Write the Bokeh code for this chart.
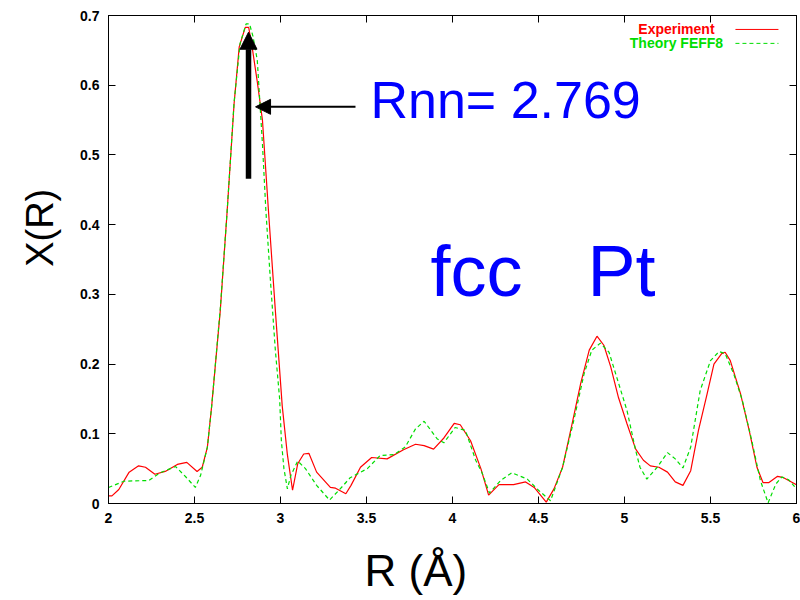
import math
from bokeh.plotting import figure
from bokeh.models import (Label, Arrow, NormalHead, FixedTicker, LinearAxis, Range1d)
from bokeh.embed import file_html
from bokeh.resources import INLINE

# ---------------- data ----------------
r_exp = [2.00, 2.02, 2.06, 2.12, 2.175, 2.215, 2.27, 2.33, 2.40, 2.455, 2.515, 2.545,
         2.575, 2.60, 2.65, 2.69, 2.73, 2.76, 2.795, 2.815, 2.835, 2.865, 2.895, 2.93,
         2.97, 3.01, 3.04, 3.07, 3.10, 3.135, 3.165, 3.21, 3.29, 3.32, 3.38, 3.41,
         3.465, 3.53, 3.62, 3.715, 3.785, 3.835, 3.89, 3.95, 4.01, 4.045, 4.105, 4.165,
         4.21, 4.27, 4.355, 4.425, 4.475, 4.545, 4.59, 4.64, 4.695, 4.745, 4.795, 4.84,
         4.88, 4.92, 4.965, 5.015, 5.065, 5.11, 5.15, 5.20, 5.25, 5.295, 5.34, 5.385,
         5.43, 5.48, 5.52, 5.565, 5.585, 5.615, 5.675, 5.725, 5.77, 5.805, 5.84, 5.89,
         5.925, 6.00]
chi_exp = [0.011, 0.011, 0.020, 0.045, 0.054, 0.052, 0.042, 0.046, 0.056, 0.059, 0.046, 0.052,
           0.081, 0.140, 0.277, 0.420, 0.573, 0.655, 0.683, 0.683, 0.655, 0.605, 0.550, 0.420,
           0.277, 0.140, 0.070, 0.019, 0.057, 0.071, 0.072, 0.045, 0.023, 0.022, 0.014, 0.026,
           0.052, 0.066, 0.064, 0.077, 0.085, 0.083, 0.078, 0.094, 0.115, 0.113, 0.090, 0.050,
           0.012, 0.027, 0.027, 0.031, 0.023, 0.002, 0.021, 0.052, 0.114, 0.172, 0.220, 0.240,
           0.227, 0.196, 0.152, 0.114, 0.078, 0.062, 0.054, 0.052, 0.045, 0.031, 0.026, 0.047,
           0.105, 0.157, 0.200, 0.215, 0.217, 0.205, 0.157, 0.105, 0.052, 0.030, 0.030, 0.039,
           0.037, 0.027]

r_th = [2.00, 2.09, 2.235, 2.30, 2.39, 2.45, 2.505, 2.535, 2.575, 2.60, 2.65, 2.69,
        2.73, 2.765, 2.80, 2.82, 2.84, 2.865, 2.895, 2.915, 2.94, 2.97, 2.995, 3.005,
        3.02, 3.04, 3.06, 3.10, 3.145, 3.21, 3.285, 3.34, 3.405, 3.505, 3.58, 3.66,
        3.725, 3.785, 3.835, 3.91, 3.95, 4.015, 4.075, 4.135, 4.17, 4.215, 4.28, 4.345,
        4.435, 4.50, 4.57, 4.64, 4.705, 4.765, 4.81, 4.86, 4.91, 4.955, 5.015, 5.065,
        5.09, 5.13, 5.19, 5.25, 5.295, 5.34, 5.385, 5.44, 5.50, 5.55, 5.585, 5.635,
        5.685, 5.74, 5.79, 5.835, 5.88, 5.915, 5.955, 6.00]
chi_th = [0.023, 0.032, 0.033, 0.044, 0.053, 0.038, 0.023, 0.040, 0.081, 0.140, 0.280, 0.420,
          0.575, 0.660, 0.688, 0.688, 0.670, 0.636, 0.516, 0.420, 0.325, 0.220, 0.150, 0.090,
          0.050, 0.021, 0.040, 0.061, 0.050, 0.026, 0.005, 0.019, 0.037, 0.050, 0.069, 0.070,
          0.081, 0.107, 0.118, 0.093, 0.087, 0.109, 0.105, 0.062, 0.045, 0.015, 0.033, 0.044,
          0.035, 0.019, 0.004, 0.052, 0.119, 0.186, 0.220, 0.230, 0.217, 0.181, 0.133, 0.076,
          0.052, 0.035, 0.052, 0.073, 0.064, 0.051, 0.081, 0.162, 0.205, 0.218, 0.215, 0.186,
          0.148, 0.090, 0.033, 0.001, 0.028, 0.038, 0.034, 0.021]

x_ticks = [2, 2.5, 3, 3.5, 4, 4.5, 5, 5.5, 6]
x_tick_labels = ["2", "2.5", "3", "3.5", "4", "4.5", "5", "5.5", "6"]
y_ticks = [0, 0.1, 0.2, 0.3, 0.4, 0.5, 0.6, 0.7]
y_tick_labels = ["0", "0.1", "0.2", "0.3", "0.4", "0.5", "0.6", "0.7"]

series_names = ["Experiment", "Theory FEFF8"]
annotation_text = "Rnn= 2.769"
title_words = ["fcc", "Pt"]
x_title = "R (Å)"
y_title = "X(R)"

# ---------------- figure ----------------
FONT = "Liberation Sans"
NBSP = "\u00a0"
p = figure(width=800, height=600, x_range=Range1d(2, 6), y_range=Range1d(0, 0.7),
           output_backend="svg", toolbar_location=None,
           min_border_left=108, min_border_right=4, min_border_top=15, min_border_bottom=97)
p.background_fill_color = "white"
p.border_fill_color = "white"
p.outline_line_color = "black"
p.xgrid.visible = False
p.ygrid.visible = False

bottom_ax = p.below[0]
left_ax = p.left[0]


def style_axis(ax, ticks, labels, show_labels=True):
    ax.ticker = FixedTicker(ticks=ticks)
    ax.major_label_overrides = {t: l for t, l in zip(ticks, labels)}
    ax.minor_tick_line_color = None
    ax.major_tick_in = 7
    ax.major_tick_out = 0
    ax.major_tick_line_color = "black"
    ax.axis_line_color = "black"
    ax.major_label_text_font = FONT
    ax.major_label_text_font_style = "bold"
    if show_labels:
        ax.major_label_text_color = "black"
        ax.major_label_text_font_size = "14px"
        ax.major_label_standoff = 9
    else:
        ax.major_label_text_color = None
        ax.major_label_text_font_size = "1px"
        ax.major_label_standoff = 0


style_axis(bottom_ax, x_ticks, x_tick_labels)
style_axis(left_ax, y_ticks, y_tick_labels)
top_ax = LinearAxis()
style_axis(top_ax, x_ticks, x_tick_labels, show_labels=False)
p.add_layout(top_ax, "above")
right_ax = LinearAxis()
style_axis(right_ax, y_ticks, y_tick_labels, show_labels=False)
p.add_layout(right_ax, "right")

# axis titles (non-breaking padding shifts them off-centre like the original)
bottom_ax.axis_label = x_title + NBSP * 6
bottom_ax.axis_label_text_font = FONT
bottom_ax.axis_label_text_font_size = "44px"
bottom_ax.axis_label_text_font_style = "normal"
bottom_ax.axis_label_text_color = "black"
bottom_ax.axis_label_standoff = 20
left_ax.axis_label = NBSP * 6 + y_title
left_ax.axis_label_text_font = FONT
left_ax.axis_label_text_font_size = "38px"
left_ax.axis_label_text_font_style = "normal"
left_ax.axis_label_text_color = "black"
left_ax.axis_label_standoff = 16

# curves
p.line(r_exp, chi_exp, line_color="#ff0000", line_width=1.2)
p.line(r_th, chi_th, line_color="#00dd00", line_width=1.2, line_dash="4 3")

# legend (text then sample line, as in the original)
leg_y = [0.680, 0.660]
leg_colors = ["#ff0000", "#00dd00"]
leg_dash = ["solid", "4 3"]
for name, yy, c, d in zip(series_names, leg_y, leg_colors, leg_dash):
    p.add_layout(Label(x=5.302, y=yy, text=name, text_color=c, text_font=FONT,
                       text_font_style="bold", text_font_size="14px",
                       text_align="center", text_baseline="middle"))
    p.add_layout(Arrow(start=None, end=None, x_start=5.645, y_start=yy,
                       x_end=5.895, y_end=yy, line_color=c, line_width=1,
                       line_dash=d))

# annotations
p.add_layout(Arrow(end=NormalHead(size=17, fill_color="black", line_color="black"),
                   x_start=2.814, y_start=0.466, x_end=2.814, y_end=0.676,
                   line_color="black", line_width=5.5))
p.add_layout(Arrow(end=NormalHead(size=15, fill_color="black", line_color="black"),
                   x_start=3.436, y_start=0.569, x_end=2.855, y_end=0.569,
                   line_color="black", line_width=2))

p.add_layout(Label(x=3.523, y=0.579, text=annotation_text, text_color="#0000ff",
                   text_font=FONT, text_font_size="52px", text_align="left",
                   text_baseline="alphabetic"))
p.add_layout(Label(x=3.872, y=0.333, text=title_words[0], text_color="#0000ff",
                   text_font=FONT, text_font_size="72px", text_align="left",
                   text_baseline="alphabetic"))
p.add_layout(Label(x=4.785, y=0.333, text=title_words[1], text_color="#0000ff",
                   text_font=FONT, text_font_size="72px", text_align="left",
                   text_baseline="alphabetic"))

open("out.html", "w").write(file_html(p, INLINE))
